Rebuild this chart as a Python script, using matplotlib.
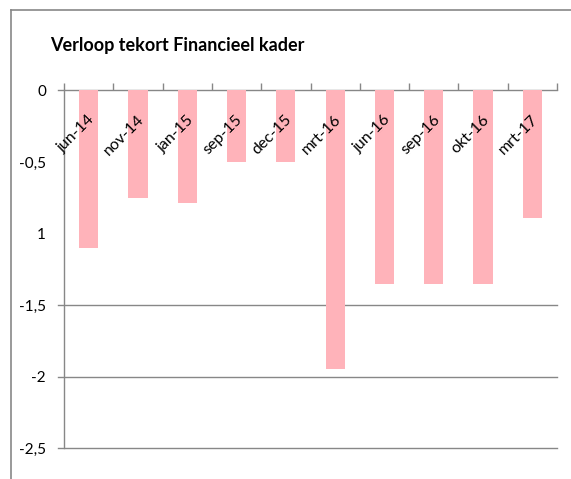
import matplotlib.pyplot as plt
from matplotlib.lines import Line2D

# data
categories = ["jun-14", "nov-14", "jan-15", "sep-15", "dec-15",
              "mrt-16", "jun-16", "sep-16", "okt-16", "mrt-17"]
tekort = [-1.1, -0.75, -0.79, -0.5, -0.5, -1.95, -1.35, -1.35, -1.35, -0.89]
ytick_vals = [0, -0.5, -1, -1.5, -2, -2.5]
ytick_labels = ["0", "-0,5", "1", "-1,5", "-2", "-2,5"]
grid_vals = [0, -1.5, -2, -2.5]

W, H = 571, 479
plt.rcParams["font.family"] = ["Lato", "DejaVu Sans"]
fig = plt.figure(figsize=(W / 100, H / 100), dpi=100)
ax = fig.add_axes([64 / W, 1 - 448 / H, (557 - 64) / W, (448 - 90.5) / H])

gray = "#878787"
x = list(range(len(categories)))
ax.bar(x, tekort, width=0.39, color="#ffb3ba", zorder=2)

ax.set_xlim(-0.5, len(categories) - 0.5)
ax.set_ylim(-2.5, 0)

for s in ["top", "right", "bottom"]:
    ax.spines[s].set_visible(False)
ax.spines["left"].set_color(gray)
ax.spines["left"].set_linewidth(1.0)

# gridlines, sticking out a little to the left like Excel's tick marks
ext = 6 / (557 - 64)
for v in grid_vals:
    ax.axhline(v, xmin=-ext, xmax=1, color=gray, lw=1.0, clip_on=False, zorder=1)

ax.set_yticks(ytick_vals)
ax.set_yticklabels(ytick_labels, fontsize=11)
ax.tick_params(axis="y", length=0, pad=13)

# category separators ticking up from the zero line
ax.xaxis.tick_top()
ax.set_xticks([i - 0.5 for i in range(len(categories) + 1)])
ax.set_xticklabels([])
ax.tick_params(axis="x", direction="out", length=5, color=gray, width=1.0)

for i, lab in enumerate(categories):
    ax.text(i + 0.08, -0.19, lab, rotation=45, ha="right", va="center",
            rotation_mode="anchor", fontsize=11.5, zorder=3)

fig.text(50 / W, 1 - 45 / H, "Verloop tekort Financieel kader",
         fontsize=13, fontweight="bold", ha="left", va="center")

# outer frame (top and left edges visible in the crop)
fig.add_artist(Line2D([11 / W, 1], [1 - 10 / H, 1 - 10 / H], color=gray, lw=1.2))
fig.add_artist(Line2D([11 / W, 11 / W], [0, 1 - 10 / H], color=gray, lw=1.2))

fig.savefig("out.png", dpi=100)
